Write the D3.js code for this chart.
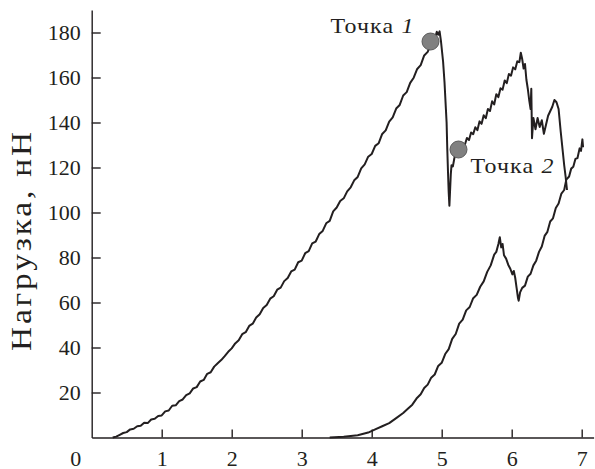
<!DOCTYPE html>
<html>
<head>
<meta charset="utf-8">
<script src="https://cdnjs.cloudflare.com/ajax/libs/d3/7.8.5/d3.min.js"></script>
<style>
body { margin: 0; background: #fff; }
svg { display: block; font-family: "Liberation Serif", "Times New Roman", serif; }
</style>
</head>
<body>
<svg width="595" height="469"></svg>
<script>
// first indentation curve: [depth, load]
var upperCurve = [
  [0.30, 0], [0.35, 0.4], [0.40, 1.2], [0.45, 2.0], [0.50, 2.4], [0.55, 3.6], [0.60, 3.9],
  [0.65, 5.0], [0.70, 5.2], [0.75, 6.6], [0.80, 6.4], [0.85, 8.0], [0.90, 8.3], [0.95, 9.6],
  [1.00, 9.8], [1.05, 11.6], [1.10, 12.0], [1.15, 14.1], [1.20, 14.3], [1.25, 16.2], [1.30, 16.9],
  [1.35, 18.8], [1.40, 19.6], [1.45, 21.8], [1.50, 22.4], [1.55, 24.9], [1.60, 25.6], [1.65, 28.3],
  [1.70, 29.0], [1.75, 31.5], [1.80, 33.0], [1.85, 34.4], [1.90, 36.2], [1.95, 38.1], [2.00, 39.6],
  [2.05, 41.8], [2.10, 43.2], [2.15, 45.9], [2.20, 46.8], [2.25, 49.6], [2.30, 50.6], [2.35, 53.3],
  [2.40, 54.8], [2.45, 57.6], [2.50, 58.9], [2.55, 61.7], [2.60, 62.8], [2.65, 65.7], [2.70, 66.6],
  [2.75, 69.5], [2.80, 70.9], [2.85, 73.8], [2.90, 74.6], [2.95, 77.9], [3.00, 78.6], [3.05, 81.9],
  [3.10, 82.8], [3.15, 86.3], [3.20, 87.1], [3.25, 90.4], [3.30, 91.8], [3.35, 95.2], [3.40, 96.3],
  [3.45, 100.5], [3.50, 102.2], [3.55, 105.1], [3.60, 106.3], [3.65, 109.4], [3.70, 111.2],
  [3.75, 114.3], [3.80, 115.8], [3.85, 119.6], [3.90, 121.4], [3.95, 124.8], [4.00, 126.0],
  [4.05, 129.6], [4.10, 130.8], [4.15, 134.9], [4.20, 136.5], [4.25, 140.4], [4.30, 142.3],
  [4.35, 146.2], [4.40, 147.8], [4.45, 152.0], [4.50, 153.5], [4.55, 157.6], [4.60, 159.9],
  [4.65, 163.8], [4.70, 165.5], [4.75, 169.8], [4.80, 171.4], [4.85, 175.2], [4.90, 177.0],
  [4.93, 180.3], [4.95, 179.0], [4.97, 180.5], [4.99, 176.0], [5.02, 167.0], [5.04, 158.0],
  [5.06, 146.0], [5.07, 140.0], [5.08, 128.0], [5.09, 118.0], [5.10, 109.0], [5.11, 103.0],
  [5.12, 110.0], [5.13, 117.0], [5.14, 121.0], [5.16, 120.5], [5.18, 124.0], [5.20, 126.5],
  [5.22, 125.2], [5.24, 128.4], [5.27, 127.6], [5.30, 130.8], [5.33, 130.0], [5.36, 133.1],
  [5.39, 132.2], [5.42, 135.6], [5.45, 134.8], [5.48, 137.9], [5.51, 136.6], [5.54, 140.5],
  [5.57, 139.4], [5.60, 143.2], [5.63, 141.9], [5.66, 146.0], [5.69, 145.1], [5.72, 149.4],
  [5.75, 148.0], [5.78, 152.6], [5.81, 151.3], [5.84, 155.2], [5.87, 154.6], [5.90, 158.7],
  [5.93, 157.5], [5.96, 161.6], [5.99, 160.8], [6.02, 164.5], [6.05, 163.6], [6.08, 167.2],
  [6.11, 166.8], [6.13, 171.0], [6.15, 168.2], [6.17, 164.0], [6.19, 166.0], [6.21, 159.0],
  [6.23, 155.0], [6.25, 150.0], [6.27, 146.0], [6.28, 155.0], [6.29, 133.0], [6.31, 142.0],
  [6.34, 137.0], [6.37, 142.0], [6.40, 138.0], [6.43, 141.0], [6.46, 135.0], [6.49, 139.0],
  [6.52, 143.0], [6.55, 145.0], [6.58, 147.0], [6.61, 150.0], [6.64, 149.0], [6.67, 146.0],
  [6.70, 136.0], [6.73, 127.0], [6.75, 121.0], [6.77, 116.0], [6.79, 110.0]
];

// second indentation curve: [depth, load]
var lowerCurve = [
  [3.40, 0], [3.60, 0.3], [3.80, 1.0], [3.95, 2.2], [4.05, 3.6], [4.15, 5.0], [4.25, 6.4],
  [4.35, 8.6], [4.45, 10.9], [4.52, 12.9], [4.58, 14.6], [4.64, 17.3], [4.70, 19.2], [4.75, 22.0],
  [4.80, 23.5], [4.85, 26.6], [4.90, 28.0], [4.95, 31.8], [5.00, 33.2], [5.05, 37.1], [5.10, 39.3],
  [5.15, 43.8], [5.20, 46.0], [5.25, 50.6], [5.30, 52.4], [5.35, 56.5], [5.40, 58.0], [5.45, 61.9],
  [5.50, 63.4], [5.55, 67.0], [5.60, 69.4], [5.65, 73.6], [5.70, 76.5], [5.75, 81.3], [5.78, 82.5],
  [5.81, 86.0], [5.83, 89.0], [5.85, 84.5], [5.87, 86.0], [5.89, 81.0], [5.92, 79.5], [5.95, 76.8],
  [5.98, 75.0], [6.01, 72.5], [6.03, 74.0], [6.05, 71.0], [6.07, 66.5], [6.09, 62.0], [6.10, 60.8],
  [6.12, 64.5], [6.15, 66.5], [6.19, 67.5], [6.23, 71.5], [6.27, 72.8], [6.31, 76.5], [6.35, 78.6],
  [6.39, 82.5], [6.43, 84.9], [6.47, 89.6], [6.51, 91.4], [6.55, 96.0], [6.59, 97.4], [6.63, 102.0],
  [6.67, 104.0], [6.71, 108.4], [6.75, 110.0], [6.78, 114.6], [6.82, 116.0], [6.85, 119.5],
  [6.88, 120.3], [6.91, 123.8], [6.94, 124.2], [6.97, 128.5], [6.99, 127.4], [7.01, 132.5], [7.02, 129.0]
];

var xTicks = [1, 2, 3, 4, 5, 6, 7];
var yTicks = [20, 40, 60, 80, 100, 120, 140, 160, 180];
var yTitle = "Нагрузка, нН";

var pointWord = "Точка";
var pointNums = ["1", "2"];
var pointX = [4.84, 5.24];
var pointY = [176, 128];

var ink = "#231f20";
var svg = d3.select("svg");

var scaleX = d3.scaleLinear()
  .domain([0, 7.17])
  .range([91.7, 593.6]);
var scaleY = d3.scaleLinear()
  .domain([0, 190])
  .range([437.5, 10]);

var xAxis = d3.axisBottom(scaleX)
  .tickValues(xTicks)
  .tickSize(-8)
  .tickSizeOuter(0)
  .tickPadding(13)
  .tickFormat(d3.format("d"));
var yAxis = d3.axisLeft(scaleY)
  .tickValues(yTicks)
  .tickSize(-9)
  .tickSizeOuter(0)
  .tickPadding(11)
  .tickFormat(d3.format("d"));

var line = d3.line()
  .x(function(d) { return scaleX(d[0]); })
  .y(function(d) { return scaleY(d[1]); });

[upperCurve, lowerCurve].forEach(function(curve) {
  svg.append("path")
    .datum(curve)
    .attr("fill", "none")
    .attr("stroke", ink)
    .attr("stroke-width", 2)
    .attr("stroke-linejoin", "round")
    .attr("d", line);
});

svg.append("g")
  .attr("transform", "translate(0," + scaleY(0) + ")")
  .call(xAxis);
svg.append("g")
  .attr("transform", "translate(" + scaleX(0) + ",0)")
  .call(yAxis);

svg.selectAll(".domain, .tick line")
  .attr("stroke", ink)
  .attr("stroke-width", 1.4);
svg.selectAll(".tick text")
  .attr("fill", ink)
  .style("font-size", "22px")
  .style("font-family", "'Liberation Serif', serif");

// origin label sits left of the y axis
svg.append("text")
  .attr("x", scaleX(0) - 16)
  .attr("y", scaleY(0) + 28.5)
  .attr("text-anchor", "middle")
  .attr("fill", ink)
  .style("font-size", "22px")
  .text("0");

svg.append("text")
  .attr("transform", "rotate(-90)")
  .attr("x", -240)
  .attr("y", 31)
  .attr("text-anchor", "middle")
  .attr("textLength", 222)
  .attr("lengthAdjust", "spacingAndGlyphs")
  .attr("fill", ink)
  .style("font-size", "29px")
  .style("letter-spacing", "2.5px")
  .text(yTitle);

svg.selectAll(".point")
  .data(pointX)
  .enter().append("circle")
  .attr("class", "point")
  .attr("cx", function(d) { return scaleX(d); })
  .attr("cy", function(d, i) { return scaleY(pointY[i]); })
  .attr("r", 8.5)
  .attr("fill", "#808080")
  .attr("stroke", "#5a5a5a")
  .attr("stroke-width", 1);

svg.selectAll(".point-label")
  .data(pointX)
  .enter().append("text")
  .attr("class", "point-label")
  .attr("x", function(d, i) { return i === 0 ? scaleX(d) - 100 : scaleX(d) + 12; })
  .attr("y", function(d, i) { return i === 0 ? scaleY(pointY[i]) - 9 : scaleY(pointY[i]) + 23; })
  .attr("textLength", 84)
  .attr("lengthAdjust", "spacingAndGlyphs")
  .attr("fill", ink)
  .style("font-size", "21px")
  .style("letter-spacing", "1px")
  .each(function(d, i) {
    var t = d3.select(this);
    t.append("tspan").text(pointWord + " ");
    t.append("tspan")
      .style("font-style", "italic")
      .text(pointNums[i]);
  });
</script>
</body>
</html>
